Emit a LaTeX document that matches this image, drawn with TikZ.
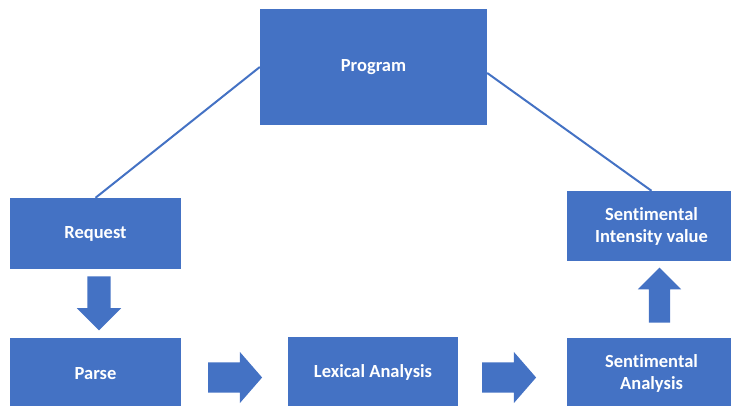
\documentclass[tikz,border=0pt]{standalone}
\usepackage{fontspec}
\setmainfont[Ligatures=NoCommon]{Carlito}
\usetikzlibrary{shapes.arrows}
\definecolor{officeblue}{RGB}{68,114,196}

\begin{document}
\begin{tikzpicture}[x=1pt,y=-1pt,
    box/.style ={rectangle, fill=officeblue, text=white, font=\bfseries\fontsize{18.5}{22}\selectfont,
      align=center, inner sep=0pt},
    blockarrow/.style ={single arrow, fill=officeblue, minimum height=54pt},
    link/.style ={draw=officeblue, line width=2pt}]
   \clip (0,0) rectangle (731,405);
   \useasboundingbox (0,0) rectangle (731,405);
   \node[box, minimum width=227pt, minimum height=116pt] (program) at (373.5,67)  {Program};
   \node[box, minimum width=171pt, minimum height=71pt] (request) at (95.5,233.5)  {Request};
   \node[box, minimum width=171pt, minimum height=71pt] (parse) at (95.5,373.5)  {Parse};
   \node[box, minimum width=170pt, minimum height=71pt] (lexical) at (373,372.5)  {Lexical Analysis};
   \node[box, minimum width=169pt, minimum height=71pt] (sentiment) at (651.5,373.5)  {Sentimental\\Analysis};
   \node[box, minimum width=169pt, minimum height=70pt] (intensity) at (651.5,226)  {Sentimental\\Intensity value};
   \node[blockarrow, inner sep=11.5pt, single arrow head extend=10.5pt, single arrow tip angle=90,
     shape border rotate=270] (down) at (99,297.5) {};
   \node[blockarrow, inner sep=15pt, single arrow head extend=10.5pt, single arrow tip angle=98] (right1) at (228.5,377.5) {};
   \node[blockarrow, inner sep=15pt, single arrow head extend=10.5pt, single arrow tip angle=98] (right2) at (502.5,377.5) {};
   \node[blockarrow, inner sep=10.5pt, single arrow head extend=11pt, minimum height=55pt, single arrow tip angle=90,
     shape border rotate=90] (up) at (659.5,300.5) {};
   \draw[link] (program.west) to (request.north);
   \draw[link] ([yshift=-6pt]program.east) to (intensity.north);
 \end{tikzpicture}
\end{document}
